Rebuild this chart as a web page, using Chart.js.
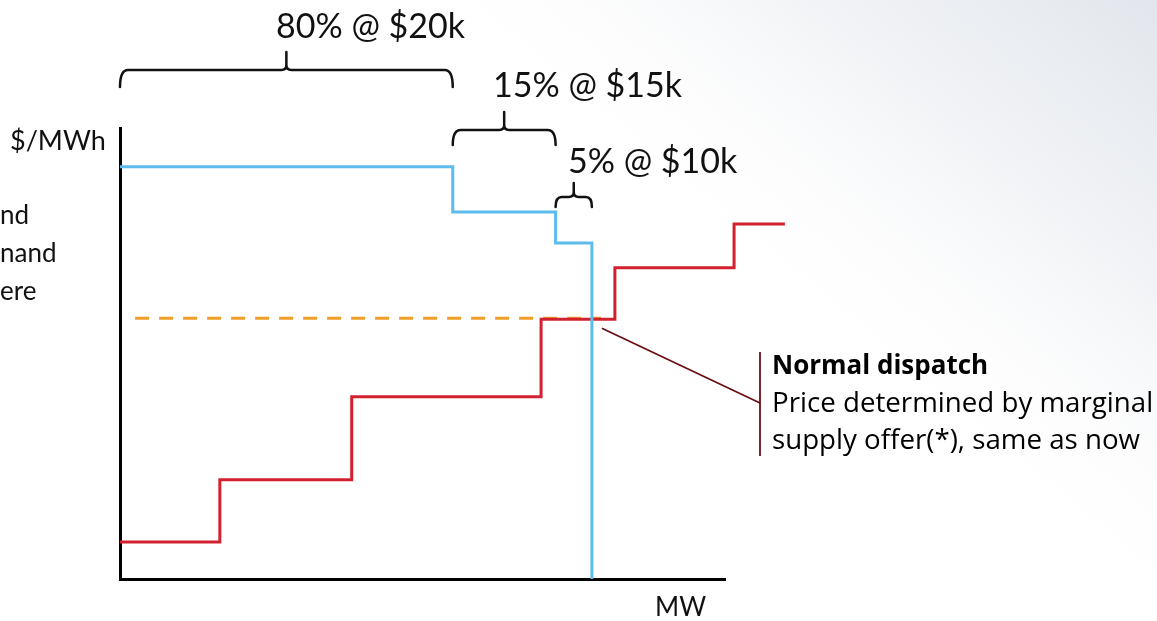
<!DOCTYPE html>
<html>
<head>
<meta charset="utf-8">
<script src="https://cdn.jsdelivr.net/npm/chart.js@4.4.1/dist/chart.umd.min.js"></script>
<style>
  html, body { margin: 0; padding: 0; background: #ffffff; }
  #wrap { width: 1157px; height: 621px; position: relative; }
</style>
</head>
<body>
<div id="wrap"><canvas id="c" width="1157" height="621"></canvas></div>
<script>
// Demand bid curve (stepped): MW where each step starts, and its price
const demandMW    = [0, 55, 72, 78];
const demandPrice = [91.4, 81.4, 74.5, 0];

// Supply offer stack (stepped)
const supplyMW    = [0, 16.5, 38.3, 69.6, 81.8, 101.5, 109.9];
const supplyPrice = [8.2, 22.0, 40.4, 57.6, 69.0, 78.7, 78.7];

// Clearing price line set by the marginal supply offer
const clearingMW    = [2.5, 79.5];
const clearingPrice = [57.8, 57.8];

// Demand bid tranches shown with braces above the chart
const trancheLabels = ['80% @ $20k', '15% @ $15k', '5% @ $10k'];
const trancheFrom   = [0, 55, 72];
const trancheTo     = [55, 72, 78];

const FONT = 'Lato, "Open Sans", sans-serif';
const BODY_FONT = '"Open Sans", Lato, sans-serif';

function pts(xs, ys) { return xs.map((x, i) => ({ x: x, y: ys[i] })); }

const BLUE = '#5CBDEC';
const RED = '#D3202F';
const ORANGE = '#EF9E2A';
const MAROON = '#6B0E12';

// soft grey wash in the upper-right corner
const backdrop = {
  id: 'backdrop',
  beforeDraw(chart) {
    const ctx = chart.ctx;
    ctx.save();
    ctx.fillStyle = '#ffffff';
    ctx.fillRect(0, 0, chart.width, chart.height);
    const g = ctx.createLinearGradient(1157, 0, 840, 380);
    g.addColorStop(0, 'rgba(226,230,236,1)');
    g.addColorStop(0.45, 'rgba(240,242,245,0.9)');
    g.addColorStop(1, 'rgba(255,255,255,0)');
    ctx.fillStyle = g;
    ctx.fillRect(0, 0, chart.width, chart.height);
    ctx.restore();
  }
};

function brace(ctx, x1, x2, yh, depth, tip) {
  const xc = (x1 + x2) / 2;
  const r = Math.min(8, (x2 - x1) / 6);
  ctx.beginPath();
  ctx.moveTo(x1, yh + depth);
  ctx.quadraticCurveTo(x1, yh, x1 + r, yh);
  ctx.lineTo(xc - 5, yh);
  ctx.quadraticCurveTo(xc, yh, xc, yh - 5);
  ctx.lineTo(xc, tip);
  ctx.moveTo(xc, yh - 5);
  ctx.quadraticCurveTo(xc, yh, xc + 5, yh);
  ctx.lineTo(x2 - r, yh);
  ctx.quadraticCurveTo(x2, yh, x2, yh + depth);
  ctx.stroke();
}

// font size that makes `text` span `width` pixels
function fitSize(ctx, text, weight, family, width) {
  ctx.font = weight + ' 100px ' + family;
  return 100 * width / ctx.measureText(text).width;
}

const annotations = {
  id: 'annotations',
  afterDraw(chart) {
    const ctx = chart.ctx;
    const xs = chart.scales.x, ys = chart.scales.y;
    ctx.save();

    // tranche braces and labels
    const braceY   = [70, 130, 197];
    const braceDep = [17, 15, 10];
    const braceTip = [52, 112, 183];
    const labelX   = [276, 493, 568];
    const labelY   = [38, 97, 173];
    ctx.strokeStyle = '#111111';
    ctx.lineWidth = 2.5;
    ctx.lineCap = 'round';
    ctx.lineJoin = 'round';
    ctx.fillStyle = '#111111';
    ctx.font = '34px ' + FONT;
    ctx.textAlign = 'left';
    ctx.textBaseline = 'alphabetic';
    trancheLabels.forEach((t, i) => {
      brace(ctx, xs.getPixelForValue(trancheFrom[i]), xs.getPixelForValue(trancheTo[i]),
            braceY[i], braceDep[i], braceTip[i]);
      ctx.fillText(t, labelX[i], labelY[i]);
    });

    // axis names
    ctx.font = '27px ' + FONT;
    ctx.fillText('$/MWh', 10, 150);
    ctx.font = '26px ' + FONT;
    ctx.fillText('MW', 655, 616);

    // legend text running in from the left margin
    ctx.font = '26px ' + FONT;
    ctx.fillText('nd', 0, 224);
    ctx.fillText('nand', 0, 262);
    ctx.fillText('ere', 0, 300);

    // callout from the dispatch point
    const px = xs.getPixelForValue(demandMW[3]);
    const py = ys.getPixelForValue(supplyPrice[3]);
    ctx.strokeStyle = MAROON;
    ctx.lineWidth = 1.8;
    ctx.lineCap = 'butt';
    ctx.beginPath();
    ctx.moveTo(px + 10, py + 9);
    ctx.lineTo(760, 403);
    ctx.stroke();
    ctx.beginPath();
    ctx.moveTo(760, 352);
    ctx.lineTo(760, 456);
    ctx.stroke();

    const bodyPx = fitSize(ctx, 'Price determined by marginal', 'normal', BODY_FONT, 381);
    const boldPx = fitSize(ctx, 'Normal dispatch', 'bold', BODY_FONT, 216);
    ctx.fillStyle = '#000000';
    ctx.font = 'bold ' + boldPx.toFixed(1) + 'px ' + BODY_FONT;
    ctx.fillText('Normal dispatch', 772, 374);
    ctx.font = bodyPx.toFixed(1) + 'px ' + BODY_FONT;
    ctx.fillText('Price determined by marginal', 772, 412);
    ctx.fillText('supply offer(*), same as now', 772, 449);

    ctx.restore();
  }
};

new Chart(document.getElementById('c'), {
  type: 'scatter',
  data: {
    datasets: [
      {
        label: 'Demand',
        data: pts(demandMW, demandPrice),
        showLine: true,
        stepped: 'before',
        borderColor: BLUE,
        borderWidth: 3,
        pointRadius: 0,
        clip: false,
        borderJoinStyle: 'miter'
      },
      {
        label: 'Supply',
        data: pts(supplyMW, supplyPrice),
        showLine: true,
        stepped: 'before',
        borderColor: RED,
        borderWidth: 3,
        pointRadius: 0,
        clip: false,
        borderJoinStyle: 'miter'
      },
      {
        label: 'Price',
        data: pts(clearingMW, clearingPrice),
        showLine: true,
        borderColor: ORANGE,
        borderWidth: 3,
        borderDash: [14, 10],
        pointRadius: 0,
        clip: false
      }
    ]
  },
  options: {
    responsive: false,
    animation: false,
    events: [],
    layout: { padding: { left: 112, top: 128, right: 432, bottom: 34 } },
    plugins: { legend: { display: false }, tooltip: { enabled: false } },
    scales: {
      x: {
        type: 'linear',
        bounds: 'data',
        afterDataLimits(s) { s.min = 0; s.max = 100; },
        grid: { display: false },
        ticks: { display: false },
        border: { display: true, color: '#000000', width: 3 }
      },
      y: {
        type: 'linear',
        bounds: 'data',
        afterDataLimits(s) { s.min = 0; s.max = 100; },
        grid: { display: false },
        ticks: { display: false },
        border: { display: true, color: '#000000', width: 3 }
      }
    }
  },
  plugins: [backdrop, annotations]
});
</script>
</body>
</html>
